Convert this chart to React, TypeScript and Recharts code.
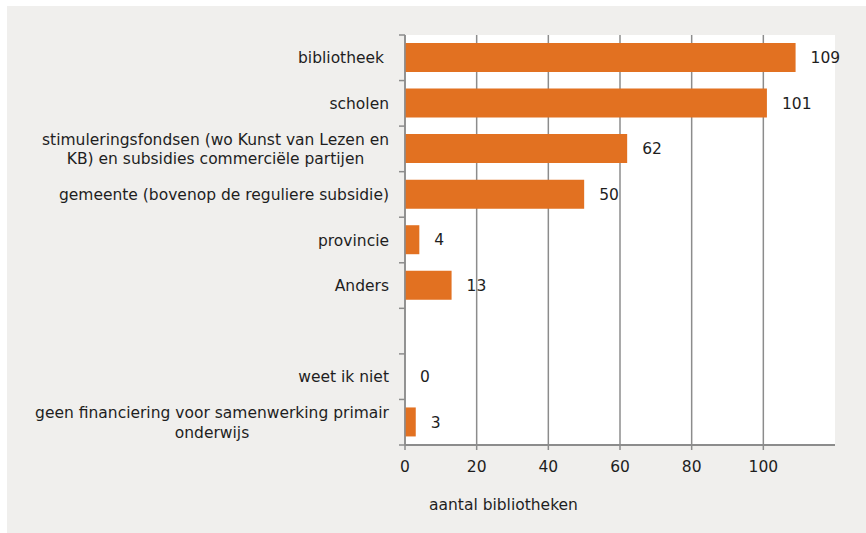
import React from 'react';
import { BarChart, Bar, XAxis, YAxis, CartesianGrid, LabelList, Label } from 'recharts';

const labelLines: string[][] = [
    ['bibliotheek '],
    ['scholen'],
    ['stimuleringsfondsen (wo Kunst van Lezen en', 'KB) en subsidies commerciële partijen'],
    ['gemeente (bovenop de reguliere subsidie)'],
    ['provincie'],
    ['Anders'],
    [''],
    ['weet ik niet'],
    ['geen financiering voor samenwerking primair', 'onderwijs'],
];
const categories = labelLines.map(l => l.join(' '));
const values: (number | null)[] = [109, 101, 62, 50, 4, 13, null, 0, 3];
const xTicks = [0, 20, 40, 60, 80, 100];
const xMax = 120;

const data = categories.map((name, i) => ({ name, value: values[i] }));

const FONT = "'DejaVu Sans', Verdana, sans-serif";
const FONT_SIZE = 15.5;
const TEXT = '#1E1E1E';
const AXIS = '#8C8C8C';
const ORANGE = '#E27121';

const CHART_W = 859;
const CHART_H = 527;
const MARGIN = { top: 29, right: 31, bottom: 48, left: 0 };
const X_AXIS_H = 40;
const BAND = (CHART_H - MARGIN.top - MARGIN.bottom - X_AXIS_H) / categories.length;

let ctx: CanvasRenderingContext2D | null = null;
const measure = (s: string) => {
    if (!ctx) {
        ctx = document.createElement('canvas').getContext('2d');
    }
    if (!ctx) return s.length * 8.5;
    ctx.font = `${FONT_SIZE}px 'DejaVu Sans'`;
    return ctx.measureText(s).width;
};

const YTick = (props: any) => {
    const { x, y, payload } = props;
    const idx = categories.indexOf(payload.value);
    const lines = labelLines[idx] || [''];
    const right = x - 16;
    const lineH = 19.5;
    const blockW = Math.max(...lines.map(measure));
    const cx = right - blockW / 2;
    const startY = y - ((lines.length - 1) * lineH) / 2;
    return (
        <g>
            <line x1={x - 6} x2={x} y1={y - BAND / 2} y2={y - BAND / 2} stroke={AXIS} strokeWidth={1.5} />
            {idx === categories.length - 1 && (
                <line x1={x - 6} x2={x} y1={y + BAND / 2} y2={y + BAND / 2} stroke={AXIS} strokeWidth={1.5} />
            )}
            {lines.map((l, i) => (
                <text
                    key={i}
                    x={lines.length > 1 ? cx : right}
                    y={startY + i * lineH}
                    dy="0.36em"
                    textAnchor={lines.length > 1 ? 'middle' : 'end'}
                    fill={TEXT}
                    fontSize={FONT_SIZE}
                    fontFamily={FONT}
                    style={{ whiteSpace: 'pre' }}
                >
                    {l}
                </text>
            ))}
        </g>
    );
};

// value label drawn right of the bar end, also for zero-length bars
const ValueLabel = (props: any) => {
    const { x, y, width, height, value } = props;
    if (value === null || value === undefined) return null;
    const w = Math.abs(width) < 0.5 ? 0 : width;
    return (
        <text
            x={x + (w || 0) + 15}
            y={y + height / 2}
            dy="0.36em"
            fill={TEXT}
            fontSize={FONT_SIZE}
            fontFamily={FONT}
        >
            {String(value)}
        </text>
    );
};

const App: React.FC = () => {
    return (
        <div style={{ position: 'absolute', left: 0, top: 0, width: 866, height: 533, background: '#FFFFFF' }}>
            <div style={{ position: 'absolute', left: 7, top: 6, width: CHART_W, height: CHART_H, background: '#F0EFED' }}>
                <BarChart width={CHART_W} height={CHART_H} data={data} layout="vertical" margin={MARGIN}>
                    <CartesianGrid
                        horizontal={false}
                        stroke={AXIS}
                        strokeWidth={1.5}
                        fill="#FFFFFF"
                        fillOpacity={1}
                        verticalCoordinatesGenerator={({ offset }: any) =>
                            xTicks.map(t => offset.left + (t / xMax) * offset.width)
                        }
                    />
                    <XAxis
                        type="number"
                        domain={[0, xMax]}
                        ticks={xTicks}
                        interval={0}
                        height={X_AXIS_H}
                        tickSize={5}
                        tickMargin={11}
                        axisLine={{ stroke: AXIS, strokeWidth: 2 }}
                        tickLine={{ stroke: AXIS, strokeWidth: 1.5 }}
                        tick={{ fill: TEXT, fontSize: FONT_SIZE, fontFamily: FONT }}
                    >
                        <Label
                            content={({ viewBox }: any) => (
                                <text x={viewBox.x + 24} y={viewBox.y + 65} fill={TEXT} fontSize={FONT_SIZE} fontFamily={FONT}>
                                    aantal bibliotheken
                                </text>
                            )}
                        />
                    </XAxis>
                    <YAxis
                        type="category"
                        dataKey="name"
                        width={398}
                        interval={0}
                        tickSize={0}
                        tickMargin={0}
                        tickLine={false}
                        axisLine={{ stroke: AXIS, strokeWidth: 1.5 }}
                        tick={<YTick />}
                    />
                    <Bar
                        dataKey="value"
                        fill={ORANGE}
                        barSize={29}
                        minPointSize={(v: any) => (v === 0 ? 0.01 : 0)}
                        isAnimationActive={false}
                    >
                        <LabelList dataKey="value" content={<ValueLabel />} />
                    </Bar>
                </BarChart>
            </div>
        </div>
    );
};

export default App;
